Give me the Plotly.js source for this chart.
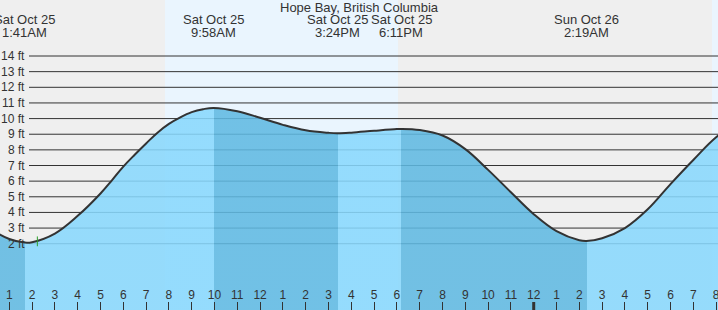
<!DOCTYPE html>
<html>
<head>
<meta charset="utf-8">
<script src="https://cdn.plot.ly/plotly-3.0.1.min.js"></script>
<style>html,body{margin:0;padding:0;background:#efefef;}#chart{width:718px;height:310px;}</style>
</head>
<body>
<div id="chart"></div>
<script>
// Hours since midnight Sat Oct 25
const tideHours = [0, 1, 1.683, 2, 3, 4, 5, 5.5, 6, 6.5, 7, 7.5, 8, 8.5, 9, 9.5, 9.967, 11, 12, 13, 14, 15, 15.4, 16, 17, 18, 18.183, 19, 20, 21, 22, 23, 24, 25, 26, 26.317, 27, 28, 29, 30, 31, 32, 33];
const tideFeet  = [3.1, 2.3, 2.07, 2.1, 2.65, 3.78, 5.21, 6.05, 6.93, 7.69, 8.41, 9.1, 9.66, 10.08, 10.41, 10.6, 10.68, 10.47, 10.05, 9.6, 9.25, 9.09, 9.06, 9.1, 9.22, 9.33, 9.34, 9.27, 8.92, 8.05, 6.72, 5.29, 3.89, 2.8, 2.22, 2.17, 2.35, 3.0, 4.2, 5.81, 7.35, 8.8, 9.8];

const eventHours = [1.683, 9.967, 15.4, 18.183, 26.317];
const eventTypes = ["L", "H", "L", "H", "L"];
const eventDates = ["Sat Oct 25", "Sat Oct 25", "Sat Oct 25", "Sat Oct 25", "Sun Oct 26"];
const eventClock = ["1:41AM", "9:58AM", "3:24PM", "6:11PM", "2:19AM"];

const sunriseHours = [7.83, 31.82];
const sunsetHours  = [18.05, 41.9];

const nowHour = [2.23];
const nowFeet = [2.15];

const xTickVals = [1,2,3,4,5,6,7,8,9,10,11,12,13,14,15,16,17,18,19,20,21,22,23,24,25,26,27,28,29,30,31,32];
const xTickText = ["1","2","3","4","5","6","7","8","9","10","11","12","1","2","3","4","5","6","7","8","9","10","11","12","1","2","3","4","5","6","7","8"];
const midnightHours = [24];

const yTickVals = [2,3,4,5,6,7,8,9,10,11,12,13,14];
const yTickText = ["2 ft","3 ft","4 ft","5 ft","6 ft","7 ft","8 ft","9 ft","10 ft","11 ft","12 ft","13 ft","14 ft"];

const titleText = "Hope Bay, British Columbia";

const FONT = "Liberation Sans, Arial, sans-serif";
const TXT = "#333";
const LIGHT = "rgba(136,216,253,0.87)";
const DARK = "rgba(95,185,226,0.87)";
const W = 718, H = 310;

// horizontal gradient: falling tide dark, rising tide light
const tMin = tideHours[0], tMax = tideHours[tideHours.length - 1];
const scale = [];
let cur = eventTypes[0] === "L" ? DARK : LIGHT;
scale.push([0, cur]);
eventHours.forEach((t, i) => {
  const p = (t - tMin) / (tMax - tMin);
  scale.push([p, cur]);
  cur = eventTypes[i] === "L" ? LIGHT : DARK;
  scale.push([p, cur]);
});
scale.push([1, cur]);

const traces = [
  {x: [tMin, tMax], y: [-3, -3], mode: "lines", line: {width: 0, color: "rgba(0,0,0,0)"}, hoverinfo: "skip", showlegend: false},
  {x: tideHours, y: tideFeet, mode: "lines", line: {color: "#333", width: 2, shape: "spline", smoothing: 1.1},
   fill: "tonexty", fillgradient: {type: "horizontal", colorscale: scale, start: tMin, stop: tMax},
   hoverinfo: "skip", showlegend: false},
  {x: nowHour, y: nowFeet, mode: "markers", marker: {symbol: "line-ns-open", size: 7, line: {color: "#333", width: 1}}, hoverinfo: "skip", showlegend: false}
];

const shapes = [];
sunriseHours.forEach((s, i) => {
  shapes.push({type: "rect", xref: "x", yref: "paper", x0: s, x1: sunsetHours[i], y0: 0, y1: 1,
    fillcolor: "#eaf5fe", line: {width: 0}, layer: "below"});
});
yTickVals.forEach(v => {
  shapes.push({type: "line", xref: "paper", yref: "y", x0: 29 / W, x1: 1, y0: v, y1: v,
    line: {color: "#333", width: 1}, layer: "below"});
});
midnightHours.forEach(m => {
  shapes.push({type: "line", xref: "x", yref: "paper", x0: m, x1: m, y0: 0, y1: 8 / H,
    line: {color: "#333", width: 3}, layer: "above"});
});

const annotations = [];
yTickVals.forEach((v, i) => {
  annotations.push({xref: "paper", yref: "y", x: 27 / W, y: v, xanchor: "right", yanchor: "middle",
    text: yTickText[i], showarrow: false, font: {family: FONT, size: 12, color: TXT}});
});
eventHours.forEach((t, i) => {
  annotations.push({xref: "x", yref: "paper", x: t, y: 1 - 20 / H, xanchor: "center", yanchor: "middle",
    text: eventDates[i], showarrow: false, font: {family: FONT, size: 13, color: TXT}});
  annotations.push({xref: "x", yref: "paper", x: t, y: 1 - 32 / H, xanchor: "center", yanchor: "middle",
    text: eventClock[i], showarrow: false, font: {family: FONT, size: 13, color: TXT}});
});
annotations.push({xref: "paper", yref: "paper", x: 0.5, y: 1 - 8 / H, xanchor: "center", yanchor: "middle",
  text: titleText, showarrow: false, font: {family: FONT, size: 13, color: TXT}});

const layout = {
  width: W, height: H,
  margin: {l: 0, r: 0, t: 0, b: 0, pad: 0},
  paper_bgcolor: "#efefef", plot_bgcolor: "#efefef",
  showlegend: false,
  xaxis: {range: [0.592, 32.083], tickmode: "array", tickvals: xTickVals, ticktext: xTickText,
    ticks: "inside", ticklen: 8, tickwidth: 1, tickcolor: "#333",
    ticklabelposition: "inside", ticklabeloverflow: "allow",
    tickfont: {family: FONT, size: 12, color: TXT},
    showgrid: false, zeroline: false, showline: false, fixedrange: true},
  yaxis: {range: [-2.238, 17.581], showgrid: false, zeroline: false, showticklabels: false, ticks: "", fixedrange: true},
  shapes: shapes,
  annotations: annotations
};

Plotly.newPlot("chart", traces, layout, {staticPlot: true, displayModeBar: false});
</script>
</body>
</html>
